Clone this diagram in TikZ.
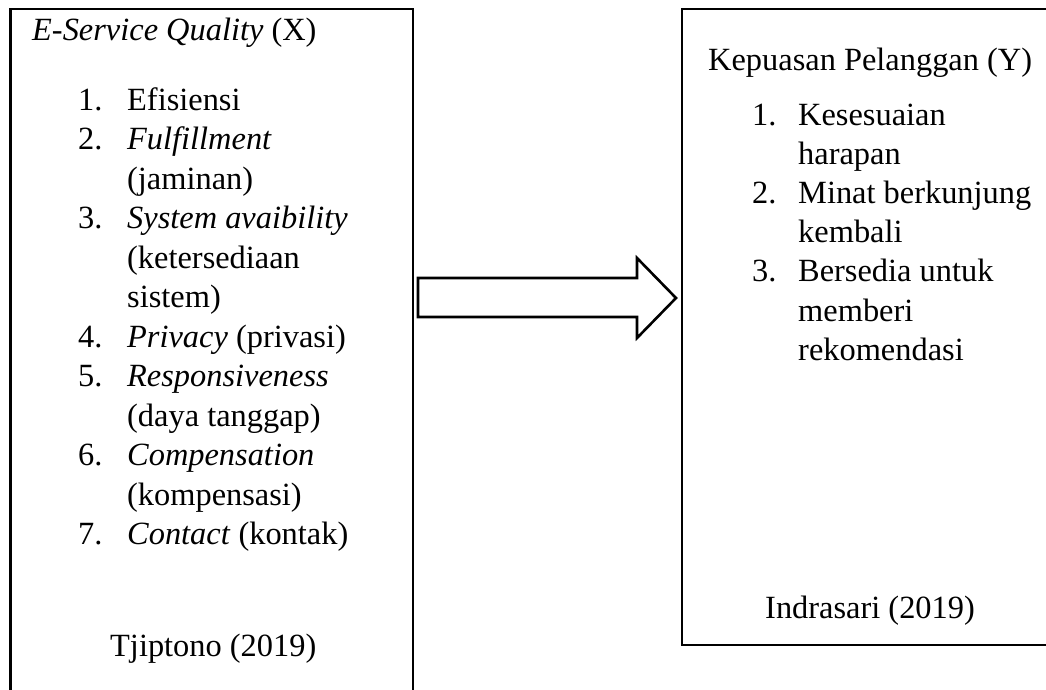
\documentclass[tikz,border=0pt]{standalone}
\usepackage{fontspec}
\setmainfont{Liberation Serif}
\begin{document}
\begin{tikzpicture}[x=1pt,y=-1pt,
  txt/.style={anchor=base west, inner sep=0pt, font=\fontsize{32.4}{39}\selectfont},
  boxline/.style={draw=black, line width=2.6pt},
  blockarrow/.style={draw=black, fill=white, line width=2.6pt, line join=miter}]
\useasboundingbox (0,0) rectangle (1046,689);
\begin{scope}
  \clip (0,0) rectangle (1046,689);
  \draw[boxline] (10.5,9) rectangle (413,720);
  \draw[boxline] (682,9) rectangle (1080,645);
\end{scope}
% left box
\node[txt] (xhead) at (32,40) {\textit{E-Service Quality} (X)};
\foreach \n/\t [count=\i from 0] in {
  1./Efisiensi, 2./\textit{Fulfillment}, /(jaminan), 3./\textit{System avaibility},
  /(ketersediaan, /sistem), 4./\textit{Privacy} (privasi), 5./\textit{Responsiveness},
  /(daya tanggap), 6./\textit{Compensation}, /(kompensasi), 7./\textit{Contact} (kontak)}{
  \node[txt] (xn\i) at (78,{110+39.5*\i}) {\n};
  \node[txt] (xt\i) at (127,{110+39.5*\i}) {\t};
}
\node[txt] (xsrc) at (110,656) {Tjiptono (2019)};
% right box
\node[txt] (yhead) at (708,70) {Kepuasan Pelanggan (Y)};
\foreach \n/\t [count=\i from 0] in {
  1./Kesesuaian, /harapan, 2./Minat berkunjung, /kembali, 3./Bersedia untuk, /memberi, /rekomendasi}{
  \node[txt] (yn\i) at (752,{125+39.2*\i}) {\n};
  \node[txt] (yt\i) at (798,{125+39.2*\i}) {\t};
}
\node[txt] (ysrc) at (765,618) {Indrasari (2019)};
% block arrow
\coordinate (as) at (418,297.5);
\coordinate (at) at (676,298);
\draw[blockarrow] (418,278) -- (637,278) -- (637,258) -- (at) -- (637,338) -- (637,317) -- (418,317) -- cycle;
\end{tikzpicture}
\end{document}
